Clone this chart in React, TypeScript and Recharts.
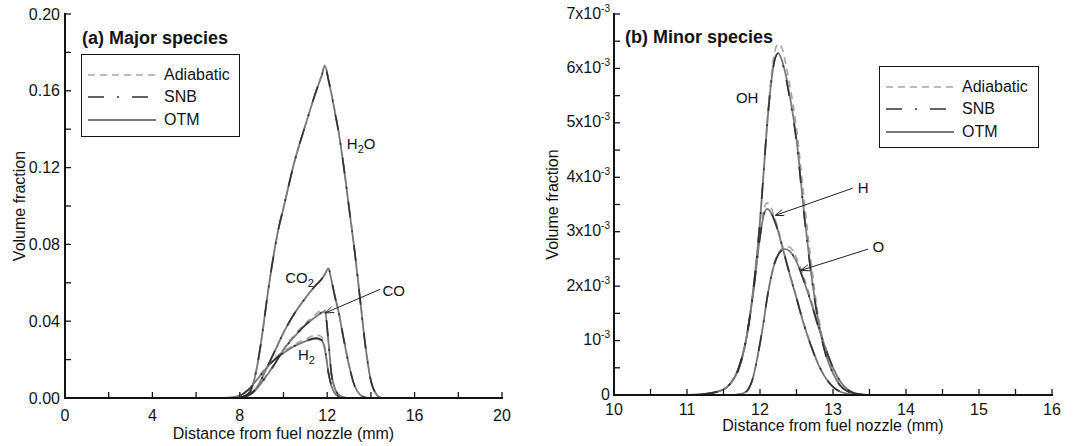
import React from "react";
import {
  Legend,
  Line,
  LineChart,
  ReferenceDot,
  ReferenceLine,
  XAxis,
  YAxis
} from "recharts";

const FONT = "'Liberation Sans', Arial, Helvetica, sans-serif";
const INK = "#141414";

// ---------- (a) major species: volume fraction vs distance (mm) ----------
const majorX = [0, 7, 7.5, 8, 8.25, 8.5, 8.75, 9, 9.25, 9.5, 9.75, 10, 10.5, 11, 11.5, 11.75, 11.9, 12.05, 12.2, 12.35, 12.5, 12.75, 13, 13.25, 13.5, 13.75, 14, 14.25, 14.5, 15, 20];

const h2oOtm = [0, 0, 0, 0.0003, 0.0012, 0.004, 0.014, 0.031, 0.052, 0.071, 0.087, 0.099, 0.123, 0.142, 0.16, 0.168, 0.173, 0.166, 0.158, 0.149, 0.14, 0.121, 0.099, 0.077, 0.052, 0.027, 0.009, 0.002, 0, 0, 0];
const h2oSnb = [0, 0, 0, 0.0003, 0.0012, 0.004, 0.014, 0.031, 0.052, 0.071, 0.087, 0.099, 0.123, 0.142, 0.16, 0.168, 0.173, 0.166, 0.158, 0.149, 0.14, 0.121, 0.099, 0.077, 0.052, 0.027, 0.009, 0.002, 0, 0, 0];
const h2oAdiabatic = [0, 0, 0, 0.0003, 0.0012, 0.004, 0.014, 0.031, 0.052, 0.071, 0.087, 0.099, 0.123, 0.142, 0.16, 0.1683, 0.1735, 0.1665, 0.1585, 0.1495, 0.1405, 0.1215, 0.0995, 0.0775, 0.0525, 0.0272, 0.0092, 0.002, 0, 0, 0];

const co2Otm = [0, 0, 0, 0.0002, 0.001, 0.0025, 0.005, 0.01, 0.016, 0.022, 0.028, 0.034, 0.044, 0.052, 0.059, 0.062, 0.0645, 0.0675, 0.061, 0.053, 0.046, 0.031, 0.017, 0.0065, 0.0018, 0.0003, 0, 0, 0, 0, 0];
const co2Snb = [0, 0, 0, 0.0002, 0.001, 0.0025, 0.005, 0.01, 0.016, 0.022, 0.028, 0.034, 0.044, 0.052, 0.059, 0.062, 0.0645, 0.0675, 0.061, 0.053, 0.046, 0.031, 0.017, 0.0065, 0.0018, 0.0003, 0, 0, 0, 0, 0];
const co2Adiabatic = [0, 0, 0, 0.0002, 0.001, 0.0025, 0.005, 0.01, 0.016, 0.022, 0.028, 0.034, 0.044, 0.052, 0.0592, 0.0622, 0.0648, 0.0678, 0.0612, 0.0532, 0.0462, 0.0312, 0.0171, 0.0066, 0.0018, 0.0003, 0, 0, 0, 0, 0];

const coOtm = [0, 0, 0, 0.0002, 0.0008, 0.002, 0.0045, 0.008, 0.012, 0.016, 0.0205, 0.025, 0.032, 0.038, 0.0425, 0.0445, 0.045, 0.03, 0.012, 0.005, 0.002, 0.0003, 0, 0, 0, 0, 0, 0, 0, 0, 0];
const coSnb = [0, 0, 0, 0.0002, 0.0008, 0.002, 0.0045, 0.008, 0.012, 0.016, 0.0205, 0.025, 0.032, 0.038, 0.0427, 0.0447, 0.0452, 0.0302, 0.012, 0.005, 0.002, 0.0003, 0, 0, 0, 0, 0, 0, 0, 0, 0];
const coAdiabatic = [0, 0, 0, 0.0002, 0.0008, 0.002, 0.0046, 0.0082, 0.0123, 0.0164, 0.021, 0.0256, 0.0328, 0.0388, 0.0438, 0.046, 0.0458, 0.0305, 0.0122, 0.005, 0.002, 0.0003, 0, 0, 0, 0, 0, 0, 0, 0, 0];

const h2Otm = [0, 0, 0.0002, 0.0012, 0.003, 0.0055, 0.009, 0.0125, 0.016, 0.019, 0.0215, 0.0235, 0.027, 0.0295, 0.031, 0.03, 0.025, 0.0135, 0.006, 0.0025, 0.001, 0.0002, 0, 0, 0, 0, 0, 0, 0, 0, 0];
const h2Snb = [0, 0, 0.0002, 0.0012, 0.003, 0.0055, 0.009, 0.0125, 0.016, 0.019, 0.0215, 0.0235, 0.0271, 0.0297, 0.0312, 0.0302, 0.0252, 0.0136, 0.006, 0.0025, 0.001, 0.0002, 0, 0, 0, 0, 0, 0, 0, 0, 0];
const h2Adiabatic = [0, 0, 0.0002, 0.0012, 0.003, 0.0056, 0.0093, 0.013, 0.0168, 0.0198, 0.0222, 0.0242, 0.0278, 0.0306, 0.0328, 0.0318, 0.026, 0.0138, 0.0061, 0.0025, 0.001, 0.0002, 0, 0, 0, 0, 0, 0, 0, 0, 0];

const majorXTicks = [0, 2, 4, 6, 8, 10, 12, 14, 16, 18, 20];
const majorYTicks = [0, 0.02, 0.04, 0.06, 0.08, 0.1, 0.12, 0.14, 0.16, 0.18, 0.2];

// ---------- (b) minor species: volume fraction in units of 10^-3 ----------
const minorX = [10, 10.5, 11, 11.25, 11.5, 11.6, 11.7, 11.8, 11.9, 12, 12.05, 12.1, 12.15, 12.2, 12.25, 12.3, 12.35, 12.4, 12.5, 12.6, 12.7, 12.8, 12.9, 13, 13.1, 13.2, 13.3, 13.5, 14, 16];

const ohOtm = [0, 0, 0, 0.02, 0.1, 0.22, 0.45, 0.95, 1.85, 3.2, 4.1, 5.0, 5.7, 6.15, 6.28, 6.15, 5.9, 5.55, 4.7, 3.4, 2.25, 1.35, 0.75, 0.4, 0.17, 0.07, 0.02, 0, 0, 0];
const ohSnb = [0, 0, 0, 0.02, 0.1, 0.22, 0.45, 0.95, 1.85, 3.2, 4.1, 5.0, 5.7, 6.15, 6.28, 6.13, 5.85, 5.5, 4.65, 3.35, 2.22, 1.33, 0.74, 0.4, 0.17, 0.07, 0.02, 0, 0, 0];
const ohAdiabatic = [0, 0, 0, 0.02, 0.1, 0.22, 0.44, 0.93, 1.82, 3.15, 4.1, 5.05, 5.8, 6.3, 6.45, 6.38, 6.1, 5.75, 4.9, 3.65, 2.45, 1.45, 0.8, 0.42, 0.18, 0.07, 0.02, 0, 0, 0];

const hOtm = [0, 0, 0, 0.02, 0.1, 0.22, 0.47, 0.95, 1.8, 2.9, 3.3, 3.42, 3.35, 3.2, 3.0, 2.75, 2.5, 2.25, 1.78, 1.3, 0.9, 0.56, 0.31, 0.15, 0.06, 0.02, 0, 0, 0, 0];
const hSnb = [0, 0, 0, 0.02, 0.1, 0.22, 0.47, 0.95, 1.8, 2.9, 3.31, 3.43, 3.36, 3.2, 3.0, 2.75, 2.5, 2.25, 1.78, 1.3, 0.9, 0.56, 0.31, 0.15, 0.06, 0.02, 0, 0, 0, 0];
const hAdiabatic = [0, 0, 0, 0.02, 0.1, 0.22, 0.47, 0.95, 1.82, 2.95, 3.4, 3.53, 3.45, 3.26, 3.04, 2.78, 2.52, 2.27, 1.8, 1.32, 0.91, 0.57, 0.31, 0.15, 0.06, 0.02, 0, 0, 0, 0];

const oOtm = [0, 0, 0, 0, 0, 0, 0.01, 0.05, 0.3, 0.95, 1.35, 1.8, 2.15, 2.42, 2.58, 2.66, 2.68, 2.65, 2.45, 2.1, 1.7, 1.25, 0.85, 0.5, 0.25, 0.1, 0.03, 0, 0, 0];
const oSnb = [0, 0, 0, 0, 0, 0, 0.01, 0.05, 0.3, 0.95, 1.35, 1.8, 2.15, 2.42, 2.58, 2.66, 2.68, 2.65, 2.45, 2.1, 1.7, 1.25, 0.85, 0.5, 0.25, 0.1, 0.03, 0, 0, 0];
const oAdiabatic = [0, 0, 0, 0, 0, 0, 0.01, 0.05, 0.3, 0.95, 1.35, 1.8, 2.16, 2.44, 2.61, 2.69, 2.72, 2.72, 2.52, 2.17, 1.75, 1.28, 0.87, 0.51, 0.25, 0.1, 0.03, 0, 0, 0];

const minorXTicks = [10, 10.5, 11, 11.5, 12, 12.5, 13, 13.5, 14, 14.5, 15, 15.5, 16];
const minorYTicks = [0, 0.5, 1, 1.5, 2, 2.5, 3, 3.5, 4, 4.5, 5, 5.5, 6, 6.5, 7];

// ---------- annotations ----------
const majorLabels = [
  { name: "H", sub: "2", tail: "O", x: 12.9, y: 0.1297 },
  { name: "CO", sub: "2", tail: "", x: 10.08, y: 0.0599 },
  { name: "CO", sub: "", tail: "", x: 14.53, y: 0.0531 },
  { name: "H", sub: "2", tail: "", x: 10.66, y: 0.0198 }
];
const majorArrows = [{ from: { x: 14.42, y: 0.0566 }, to: { x: 11.91, y: 0.0443 } }];

const minorLabels = [
  { name: "OH", sub: "", tail: "", x: 11.67, y: 5.36 },
  { name: "H", sub: "", tail: "", x: 13.34, y: 3.72 },
  { name: "O", sub: "", tail: "", x: 13.54, y: 2.63 }
];
const minorArrows = [
  { from: { x: 13.27, y: 3.8 }, to: { x: 12.21, y: 3.3 } },
  { from: { x: 13.48, y: 2.68 }, to: { x: 12.56, y: 2.29 } }
];

// legend order, then drawing order (adiabatic under, SNB on top)
const models = [
  { key: "adi", name: "Adiabatic", color: "#a6a6a6", dash: "7 5", width: 1.6 },
  { key: "snb", name: "SNB", color: "#333333", dash: "16 13 2 13", width: 1.6 },
  { key: "otm", name: "OTM", color: "#7a7a7a", dash: undefined as string | undefined, width: 1.8 }
];
const drawOrder = ["adi", "otm", "snb"];

const majorSeries: Record<string, Record<string, number[]>> = {
  h2o: { adi: h2oAdiabatic, snb: h2oSnb, otm: h2oOtm },
  co2: { adi: co2Adiabatic, snb: co2Snb, otm: co2Otm },
  co: { adi: coAdiabatic, snb: coSnb, otm: coOtm },
  h2: { adi: h2Adiabatic, snb: h2Snb, otm: h2Otm }
};
const minorSeries: Record<string, Record<string, number[]>> = {
  oh: { adi: ohAdiabatic, snb: ohSnb, otm: ohOtm },
  h: { adi: hAdiabatic, snb: hSnb, otm: hOtm },
  o: { adi: oAdiabatic, snb: oSnb, otm: oOtm }
};

function buildRows(xs: number[], series: Record<string, Record<string, number[]>>) {
  return xs.map((x, i) => {
    const row: Record<string, number> = { x };
    Object.entries(series).forEach(([sp, byModel]) => {
      Object.entries(byModel).forEach(([m, values]) => {
        row[`${sp}_${m}`] = values[i];
      });
    });
    return row;
  });
}

const majorRows = buildRows(majorX, majorSeries);
const minorRows = buildRows(minorX, minorSeries);

function renderLines(series: Record<string, Record<string, number[]>>) {
  const out: React.ReactNode[] = [];
  drawOrder.forEach((mk) => {
    const m = models.find((d) => d.key === mk)!;
    Object.keys(series).forEach((sp) => {
      out.push(
        <Line
          key={`${sp}_${mk}`}
          dataKey={`${sp}_${mk}`}
          type="monotone"
          stroke={m.color}
          strokeWidth={m.width}
          strokeDasharray={m.dash}
          dot={false}
          activeDot={false}
          isAnimationActive={false}
        />
      );
    });
  });
  return out;
}

const Arrow = (p: any) => {
  const { x1, y1, x2, y2 } = p;
  const a = Math.atan2(y2 - y1, x2 - x1);
  const head = 9;
  const s = 0.36;
  const hx1 = x2 - head * Math.cos(a - s);
  const hy1 = y2 - head * Math.sin(a - s);
  const hx2 = x2 - head * Math.cos(a + s);
  const hy2 = y2 - head * Math.sin(a + s);
  return (
    <g>
      <line x1={x1} y1={y1} x2={x2} y2={y2} stroke="#222" strokeWidth={1} />
      <polyline points={`${hx1},${hy1} ${x2},${y2} ${hx2},${hy2}`} fill="none" stroke="#222" strokeWidth={1} />
    </g>
  );
};

const speciesShape = (name: string, sub: string, tail: string) => (p: any) => (
  <text x={p.cx} y={p.cy} fontSize={15} fill={INK} fontFamily={FONT}>
    {name}
    {sub ? (
      <tspan dy={4} fontSize={11}>
        {sub}
      </tspan>
    ) : null}
    {tail ? <tspan dy={-4}>{tail}</tspan> : null}
  </text>
);

function PowerTick(props: any) {
  const { x, y, payload } = props;
  const v = payload.value as number;
  if (!Number.isInteger(v)) return <g />;
  return (
    <text x={x} y={y} dy={4.5} textAnchor="end" fontSize={16} fill={INK} fontFamily={FONT}>
      {v === 0 ? "0" : v === 1 ? "10" : `${v}x10`}
      {v !== 0 ? (
        <tspan dy={-7} fontSize={10}>
          -3
        </tspan>
      ) : null}
    </text>
  );
}

const LegendBox = ({ w, h }: { w: number; h: number }) => (
  <div
    style={{
      width: w,
      height: h,
      border: `1.5px solid ${INK}`,
      boxSizing: "border-box",
      background: "#fff",
      position: "relative",
      fontFamily: FONT
    }}
  >
    {models.map((m, i) => (
      <div
        key={m.name}
        style={{ position: "absolute", left: 0, top: 19.5 + 22.5 * i - 10, height: 20, width: "100%" }}
      >
        <svg width={68} height={20} style={{ position: "absolute", left: 5.5, top: 0 }}>
          <line x1={0} y1={10} x2={68} y2={10} stroke={m.color} strokeWidth={m.width} strokeDasharray={m.dash} />
        </svg>
        <span style={{ position: "absolute", left: 82, top: 0, lineHeight: "20px", fontSize: 16, color: INK }}>
          {m.name}
        </span>
      </div>
    ))}
  </div>
);

const axisLine = { stroke: INK, strokeWidth: 2, strokeLinecap: "square" as const };
const tickLine = { stroke: INK, strokeWidth: 1.3 };
const tickStyle = { fill: INK, fontSize: 16, fontFamily: FONT };

function MajorPanel() {
  return (
    <LineChart width={540} height={446} data={majorRows} margin={{ top: 14, right: 38, bottom: 0, left: 0 }}>
      <XAxis
        dataKey="x"
        type="number"
        domain={[0, 20]}
        ticks={majorXTicks}
        interval={0}
        allowDataOverflow
        height={48}
        tickSize={-6}
        tickMargin={18}
        axisLine={axisLine}
        tickLine={tickLine}
        tick={tickStyle}
        tickFormatter={(v: number) => (v % 4 === 0 ? String(v) : "")}
        label={{ value: "Distance from fuel nozzle (mm)", position: "insideBottom", offset: 7, fill: INK, fontSize: 16, fontFamily: FONT }}
      />
      <XAxis
        xAxisId="top"
        orientation="top"
        type="number"
        domain={[0, 20]}
        ticks={majorXTicks}
        interval={0}
        allowDataOverflow
        height={0}
        tickSize={-6}
        axisLine={axisLine}
        tickLine={tickLine}
        tickFormatter={() => ""}
      />
      <YAxis
        type="number"
        domain={[0, 0.2]}
        ticks={majorYTicks}
        interval={0}
        allowDataOverflow
        width={65}
        tickSize={-6}
        tickMargin={11}
        axisLine={axisLine}
        tickLine={tickLine}
        tick={tickStyle}
        tickFormatter={(v: number) => (Math.round(v * 100) % 4 === 0 ? v.toFixed(2) : "")}
        label={{ value: "Volume fraction", angle: -90, position: "insideLeft", offset: 19, style: { textAnchor: "middle" }, fill: INK, fontSize: 16, fontFamily: FONT }}
      />
      <YAxis
        yAxisId="right"
        orientation="right"
        type="number"
        domain={[0, 0.2]}
        ticks={majorYTicks}
        interval={0}
        allowDataOverflow
        width={0}
        tickSize={-6}
        axisLine={axisLine}
        tickLine={tickLine}
        tickFormatter={() => ""}
      />
      {renderLines(majorSeries)}
      {majorArrows.map((a, i) => (
        <ReferenceLine key={`ma${i}`} segment={[a.from, a.to]} shape={Arrow} />
      ))}
      {majorLabels.map((l, i) => (
        <ReferenceDot key={`ml${i}`} x={l.x} y={l.y} r={0} shape={speciesShape(l.name, l.sub, l.tail)} />
      ))}
      <Legend
        layout="vertical"
        align="center"
        verticalAlign="middle"
        content={() => <LegendBox w={159} h={83} />}
        wrapperStyle={{ left: 81, top: 54, width: 159, height: 83 }}
      />
    </LineChart>
  );
}

function MinorPanel() {
  return (
    <LineChart width={533} height={446} data={minorRows} margin={{ top: 14, right: 21, bottom: 0, left: 0 }}>
      <XAxis
        dataKey="x"
        type="number"
        domain={[10, 16]}
        ticks={minorXTicks}
        interval={0}
        allowDataOverflow
        height={51}
        tickSize={-6}
        tickMargin={15}
        axisLine={axisLine}
        tickLine={tickLine}
        tick={tickStyle}
        tickFormatter={(v: number) => (Number.isInteger(v) ? String(v) : "")}
        label={{ value: "Distance from fuel nozzle (mm)", position: "insideBottom", offset: 15, fill: INK, fontSize: 16, fontFamily: FONT }}
      />
      <XAxis
        xAxisId="top"
        orientation="top"
        type="number"
        domain={[10, 16]}
        ticks={minorXTicks}
        interval={0}
        allowDataOverflow
        height={0}
        tickSize={-6}
        axisLine={axisLine}
        tickLine={tickLine}
        tickFormatter={() => ""}
      />
      <YAxis
        type="number"
        domain={[0, 7]}
        ticks={minorYTicks}
        interval={0}
        allowDataOverflow
        width={74}
        tickSize={-6}
        tickMargin={10}
        axisLine={axisLine}
        tickLine={tickLine}
        tick={<PowerTick />}
        label={{ value: "Volume fraction", angle: -90, position: "insideLeft", offset: 12.5, style: { textAnchor: "middle" }, fill: INK, fontSize: 16, fontFamily: FONT }}
      />
      <YAxis
        yAxisId="right"
        orientation="right"
        type="number"
        domain={[0, 7]}
        ticks={minorYTicks}
        interval={0}
        allowDataOverflow
        width={0}
        tickSize={-6}
        axisLine={axisLine}
        tickLine={tickLine}
        tickFormatter={() => ""}
      />
      {renderLines(minorSeries)}
      {minorArrows.map((a, i) => (
        <ReferenceLine key={`na${i}`} segment={[a.from, a.to]} shape={Arrow} />
      ))}
      {minorLabels.map((l, i) => (
        <ReferenceDot key={`nl${i}`} x={l.x} y={l.y} r={0} shape={speciesShape(l.name, l.sub, l.tail)} />
      ))}
      <Legend
        layout="vertical"
        align="center"
        verticalAlign="middle"
        content={() => <LegendBox w={160} h={82} />}
        wrapperStyle={{ left: 339, top: 66, width: 160, height: 82 }}
      />
    </LineChart>
  );
}

export default function App() {
  return (
    <div style={{ position: "absolute", left: 0, top: 0, width: 1073, height: 446, background: "#fff", overflow: "hidden" }}>
      <div style={{ position: "absolute", left: 0, top: 0 }}>
        <MajorPanel />
      </div>
      <div style={{ position: "absolute", left: 540, top: 0 }}>
        <MinorPanel />
      </div>
      <svg width={1073} height={446} style={{ position: "absolute", left: 0, top: 0, pointerEvents: "none" }}>
        <text x={82} y={44} fontSize={18} fontWeight="bold" fill={INK} fontFamily={FONT}>
          (a) Major species
        </text>
        <text x={625} y={43} fontSize={18} fontWeight="bold" fill={INK} fontFamily={FONT}>
          (b) Minor species
        </text>
      </svg>
    </div>
  );
}
